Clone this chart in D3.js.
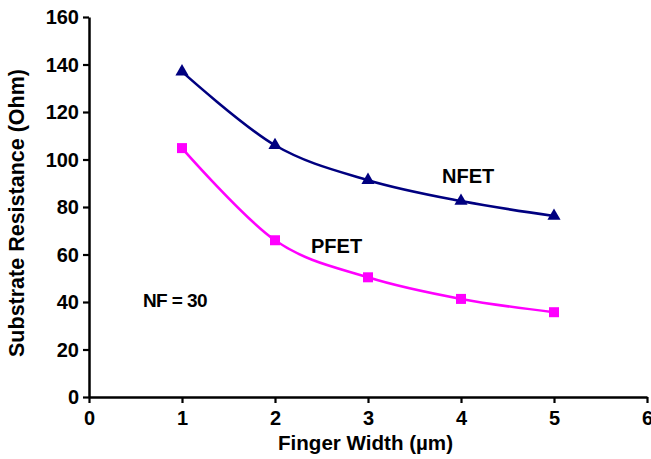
<!DOCTYPE html>
<html><head><meta charset="utf-8">
<script src="https://cdn.jsdelivr.net/npm/d3@7"></script>
<style>body{margin:0;background:#fff;}svg{display:block;font-family:"Liberation Sans",Arial,sans-serif;font-weight:bold;}</style>
</head><body><svg id="c" width="651" height="459"></svg>
<script>
const fingerWidth = [1, 2, 3, 4, 5];
const nfet = [137, 106, 91.3, 82.5, 76.2];
const pfet = [104.8, 66, 50.4, 41.3, 35.7];
const xTicks = [0, 1, 2, 3, 4, 5, 6];
const yTicks = [0, 20, 40, 60, 80, 100, 120, 140, 160];

const svg = d3.select("#c");
const x = d3.scaleLinear().domain([0, 6]).range([89, 647]);
const y = d3.scaleLinear().domain([0, 160]).range([397, 17]);
const FF = "'Liberation Sans',Arial,sans-serif";

const xAxis = svg.append("g").attr("transform", "translate(0,397)")
  .call(d3.axisBottom(x).tickValues(xTicks).tickSize(6).tickSizeOuter(0).tickFormat(d3.format("d")));
const yAxis = svg.append("g").attr("transform", "translate(89,0)")
  .call(d3.axisLeft(y).tickValues(yTicks).tickSize(6).tickSizeOuter(0).tickFormat(d3.format("d")));
[xAxis, yAxis].forEach(a => {
  a.select(".domain").attr("stroke", "#000").attr("stroke-width", 2.5);
  a.selectAll(".tick line").attr("stroke", "#000").attr("stroke-width", 2.2);
  a.selectAll(".tick text").attr("fill", "#000").style("font-size", "20px").style("font-weight", "bold")
    .style("font-family", FF);
});
xAxis.selectAll(".tick text").attr("dy", 0).attr("y", 28);
yAxis.selectAll(".tick text").attr("x", -10).attr("dy", "0.33em");

const line = d3.line().x((d, i) => x(fingerWidth[i])).y(d => y(d)).curve(d3.curveCardinal.tension(0));

svg.append("path").datum(nfet).attr("d", line).attr("fill", "none").attr("stroke", "#000080").attr("stroke-width", 2.6);
svg.append("path").datum(pfet).attr("d", line).attr("fill", "none").attr("stroke", "#FF00FF").attr("stroke-width", 2.6);

const tri = d3.symbol().type(d3.symbolTriangle).size(75);
svg.selectAll(".tri").data(nfet).join("path")
  .attr("transform", (d, i) => `translate(${x(fingerWidth[i])},${y(d)})`)
  .attr("d", tri).attr("fill", "#000080");
svg.selectAll(".sq").data(pfet).join("rect")
  .attr("x", (d, i) => x(fingerWidth[i]) - 5).attr("y", d => y(d) - 5)
  .attr("width", 10).attr("height", 10).attr("fill", "#FF00FF");

svg.append("text").attr("x", 442).attr("y", 183)
  .style("font-size", "20px").text("NFET");
svg.append("text").attr("x", 311).attr("y", 253)
  .style("font-size", "20px").text("PFET");
svg.append("text").attr("x", 143).attr("y", 307)
  .style("font-size", "19px").style("letter-spacing", "-0.6px").text("NF = 30");

svg.append("text").attr("x", 278).attr("y", 450)
  .attr("textLength", 175).attr("lengthAdjust", "spacingAndGlyphs")
  .style("font-size", "21px").text("Finger Width (µm)");
svg.append("text").attr("transform", "translate(24,213) rotate(-90)").attr("text-anchor", "middle")
  .style("font-size", "21.5px").text("Substrate Resistance (Ohm)");
</script></body></html>
